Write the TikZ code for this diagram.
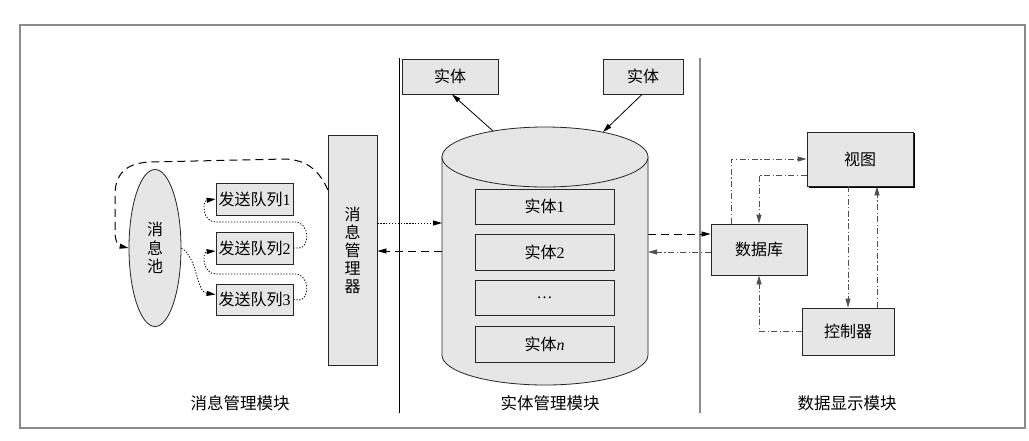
\documentclass[tikz,border=0pt]{standalone}
\usepackage{fontspec}
\setmainfont{Liberation Serif}
\newfontfamily\cjk{Noto Sans CJK SC}
\usetikzlibrary{arrows.meta,shapes.geometric}
\definecolor{boxgray}{HTML}{E6E6E6}
\definecolor{lineg}{HTML}{505050}
\definecolor{framegray}{HTML}{8C8C8C}
\newcommand\lat[1]{{\rmfamily #1}}
\begin{document}
\begin{tikzpicture}[x=1pt,y=-1pt,
  box/.style={draw=black!85, line width=0.8pt, fill=boxgray, inner sep=0pt,
    font=\cjk\fontsize{16}{18}\selectfont, align=center},
  arr/.style={-{Triangle[length=9pt,width=5pt]}},
  dd/.style={arr, draw=lineg, line width=0.8pt,
    dash pattern=on 6pt off 2.5pt on 1.2pt off 2.5pt},
  dsh/.style={arr, line width=0.8pt, dash pattern=on 8pt off 5pt},
  dot/.style={arr, line width=0.8pt, dash pattern=on 1.3pt off 1.6pt},
  lbl/.style={font=\cjk\fontsize{16.5}{18}\selectfont}
]
\useasboundingbox (0,0) rectangle (1029,440);
\fill[white] (0,0) rectangle (1029,440);
% frame and dividers
\draw[framegray, line width=1.2pt] (20,25) rectangle (1025,428);
\draw[black, line width=0.6pt] (399,58) -- (399,413);
\draw[framegray, line width=1.4pt] (700,58) -- (700,413);

% ---------- left module ----------
\node[ellipse, draw=black!85, line width=0.8pt, fill=boxgray, minimum width=52pt,
  minimum height=157pt, inner sep=0pt, align=center,
  font=\cjk\fontsize{16}{18.5}\selectfont] (pool) at (155,248) {消\\息\\池};
\node[box, minimum width=77pt, minimum height=32pt] (q1) at (254.5,199) {发送队列\lat{1}};
\node[box, minimum width=77pt, minimum height=32pt] (q2) at (254.5,248) {发送队列\lat{2}};
\node[box, minimum width=77pt, minimum height=31pt] (q3) at (254.5,299.5) {发送队列\lat{3}};
\node[box, minimum width=49pt, minimum height=230pt, font=\cjk\fontsize{16}{18}\selectfont] (mgr) at (352.5,250) {消\\息\\管\\理\\器};

\draw[dot] (q2.east) -- (299,248) .. controls (310,248) and (310,222) .. (295,222)
  -- (216,222) .. controls (202,222) and (202,201) .. (q1.west);
\draw[dot] (q3.east) -- (299,300) .. controls (310,300) and (310,274) .. (295,274)
  -- (216,274) .. controls (202,274) and (202,252) .. ([yshift=-3pt]q2.west);
\draw[dot] (pool.east) .. controls (198,258) and (196,292) .. ([yshift=5pt]q3.west);

\coordinate (mgrA) at (328,190);
\draw[dsh, line width=1pt] (mgrA) .. controls (318,168) and (305,160) .. (285,159)
  -- (150,162) .. controls (125,163) and (115,175) .. (115,195)
  -- (115,232) .. controls (115,242) and (119,246) .. (pool.west);

% ---------- middle module ----------
\filldraw[fill=boxgray, draw=black!85, line width=0.8pt]
  (442,157) -- (442,355) arc[start angle=180, end angle=360, x radius=103pt, y radius=30pt]
  -- (648,157) -- cycle;
\filldraw[fill=boxgray, draw=black!85, line width=0.8pt]
  (545,157) ellipse[x radius=103pt, y radius=30pt];

\node[box, minimum width=139pt, minimum height=35pt] (e1) at (544.5,206.5) {实体\lat{1}};
\node[box, minimum width=139pt, minimum height=36pt] (e2) at (544.5,252) {实体\lat{2}};
\node[box, minimum width=139pt, minimum height=35pt] (e3) at (544.5,297.5) {\lat{…}};
\node[box, minimum width=139pt, minimum height=36pt] (en) at (544.5,344) {实体\lat{\textit{n}}};

\node[box, minimum width=96pt, minimum height=35pt] (el) at (450,76.5) {实体};
\node[box, minimum width=80pt, minimum height=35pt] (er) at (643,76.5) {实体};

\coordinate (ct1) at (493,131);
\coordinate (ct2) at (603,132);
\draw[arr, line width=0.8pt] (ct1) -- ([xshift=2pt]el.south);
\draw[arr, line width=0.8pt] ([xshift=-1pt]er.south) -- (ct2);

\coordinate (cL1) at (442,223);
\coordinate (cL2) at (442,251);
\coordinate (cR1) at (648,234);
\coordinate (cR2) at (648,252);
\draw[dot] (mgr.east |- cL1) -- (cL1);
\draw[dsh] (cL2) -- (mgr.east |- cL2);

% ---------- right module ----------
\node[box, minimum width=106pt, minimum height=54pt] (view) at (860,159) {视图};
\draw[black, line width=1.2pt] ([xshift=1pt,yshift=-1pt]view.north east) -- ([xshift=1pt,yshift=-1pt]view.south east) -- ([xshift=2pt,yshift=-1pt]view.south west);
\node[box, minimum width=96pt, minimum height=51pt] (db) at (759,249.5) {数据库};
\node[box, minimum width=92pt, minimum height=47pt] (ctl) at (848,331.5) {控制器};

\draw[dsh] (cR1) -- (db.west |- cR1);
\draw[dd] (db.west |- cR2) -- (cR2);
\draw[dd] ([xshift=-28pt]db.north) |- (view.west);
\draw[dd] ([yshift=-16pt]view.west) -| (db.north);
\draw[dd] (view.south -| ctl.north) -- (ctl.north);
\draw[dd] ([xshift=29pt]ctl.north) -- ([xshift=29pt]ctl.north |- view.south);
\draw[dd] (ctl.west) -| (db.south);

% ---------- labels ----------
\node[lbl] (l1) at (240,403) {消息管理模块};
\node[lbl] (l2) at (550,403) {实体管理模块};
\node[lbl] (l3) at (847,403) {数据显示模块};
\end{tikzpicture}
\end{document}
